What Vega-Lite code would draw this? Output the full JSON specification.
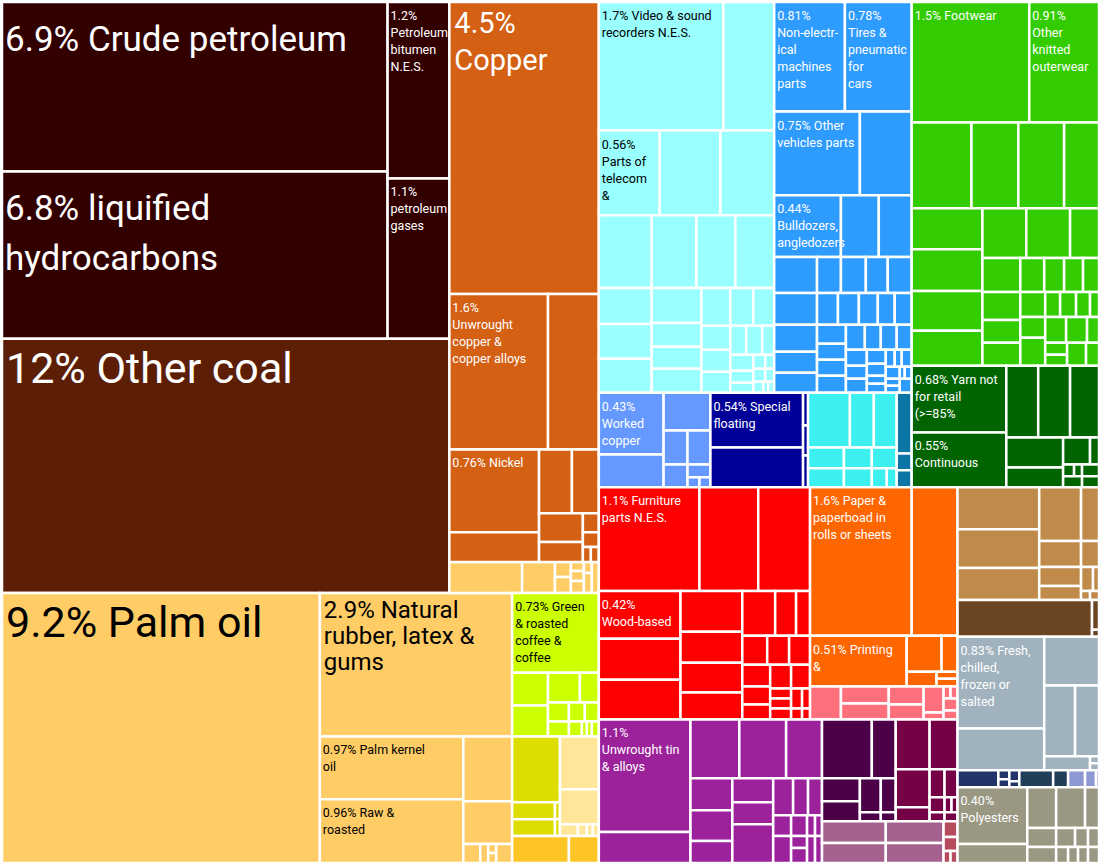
{
"$schema":"https://vega.github.io/schema/vega-lite/v6.json",
"width":1101,"height":865,"padding":0,
"autosize":{"type":"fit","contains":"padding"},
"background":"white",
"config":{"view":{"stroke":null},"font":"Roboto"},
"data":{"values":[
{"g":"P","x0":0,"x1":387,"y0":1,"y1":171,"v":6.9,"label":["6.9% Crude petroleum"]},
{"g":"P","x0":0,"x1":387,"y0":171,"y1":339,"v":6.8,"label":["6.8% liquified","hydrocarbons"]},
{"g":"P","x0":387,"x1":449,"y0":1,"y1":178,"v":1.2,"label":["1.2%","Petroleum","bitumen","N.E.S."]},
{"g":"P","x0":387,"x1":449,"y0":178,"y1":339,"v":1.1,"label":["1.1%","petroleum","gases"]},
{"g":"C","x0":0,"x1":449,"y0":339,"y1":594,"v":12,"label":["12% Other coal"]},
{"g":"O","x0":0,"x1":319,"y0":594,"y1":865,"v":9.2,"label":["9.2% Palm oil"]},
{"g":"O","x0":319,"x1":512,"y0":594,"y1":738,"v":2.9,"label":["2.9% Natural","rubber, latex &","gums"]},
{"g":"O","x0":319,"x1":463,"y0":738,"y1":801,"v":0.97,"label":["0.97% Palm kernel","oil"]},
{"g":"O","x0":319,"x1":463,"y0":801,"y1":865,"v":0.96,"label":["0.96% Raw &","roasted"]},
{"g":"O","x0":463,"x1":512,"y0":738,"y1":803},
{"g":"O","x0":463,"x1":512,"y0":803,"y1":846},
{"g":"O","x0":463,"x1":480,"y0":846,"y1":865},
{"g":"O","x0":480,"x1":488,"y0":846,"y1":865},
{"g":"O","x0":488,"x1":496,"y0":846,"y1":855},
{"g":"O","x0":488,"x1":496,"y0":855,"y1":865},
{"g":"O","x0":496,"x1":512,"y0":846,"y1":865},
{"g":"O","x0":449,"x1":522,"y0":563,"y1":594},
{"g":"O","x0":522,"x1":555,"y0":563,"y1":594},
{"g":"O","x0":555,"x1":571,"y0":563,"y1":578},
{"g":"O","x0":555,"x1":571,"y0":578,"y1":594},
{"g":"O","x0":571,"x1":584,"y0":563,"y1":572},
{"g":"O","x0":571,"x1":584,"y0":572,"y1":582},
{"g":"O","x0":571,"x1":584,"y0":582,"y1":594},
{"g":"O","x0":584,"x1":592,"y0":563,"y1":574},
{"g":"O","x0":584,"x1":592,"y0":574,"y1":594},
{"g":"O","x0":592,"x1":599,"y0":563,"y1":594},
{"g":"Cu","x0":449,"x1":599,"y0":1,"y1":294,"v":4.5,"label":["4.5%","Copper"]},
{"g":"Cu","x0":449,"x1":548,"y0":294,"y1":450,"v":1.6,"label":["1.6%","Unwrought","copper &","copper alloys"]},
{"g":"Cu","x0":548,"x1":599,"y0":294,"y1":450},
{"g":"Cu","x0":449,"x1":539,"y0":450,"y1":533,"v":0.76,"label":["0.76% Nickel"]},
{"g":"Cu","x0":449,"x1":539,"y0":533,"y1":563},
{"g":"Cu","x0":539,"x1":572,"y0":450,"y1":514},
{"g":"Cu","x0":572,"x1":599,"y0":450,"y1":514},
{"g":"Cu","x0":539,"x1":583,"y0":514,"y1":543},
{"g":"Cu","x0":583,"x1":599,"y0":514,"y1":533},
{"g":"Cu","x0":539,"x1":583,"y0":543,"y1":563},
{"g":"Cu","x0":583,"x1":599,"y0":533,"y1":548},
{"g":"Cu","x0":583,"x1":591,"y0":548,"y1":563},
{"g":"Cu","x0":591,"x1":599,"y0":548,"y1":563},
{"g":"Lime","x0":512,"x1":599,"y0":594,"y1":674,"v":0.73,"label":["0.73% Green","& roasted","coffee &","coffee"]},
{"g":"Lime","x0":512,"x1":548,"y0":674,"y1":707},
{"g":"Lime","x0":512,"x1":548,"y0":707,"y1":738},
{"g":"Lime","x0":548,"x1":580,"y0":674,"y1":704},
{"g":"Lime","x0":580,"x1":599,"y0":674,"y1":704},
{"g":"Lime","x0":548,"x1":569,"y0":704,"y1":723},
{"g":"Lime","x0":569,"x1":585,"y0":704,"y1":723},
{"g":"Lime","x0":585,"x1":599,"y0":704,"y1":723},
{"g":"Lime","x0":548,"x1":569,"y0":723,"y1":738},
{"g":"Lime","x0":569,"x1":582,"y0":723,"y1":738},
{"g":"Lime","x0":582,"x1":587,"y0":723,"y1":738},
{"g":"Lime","x0":587,"x1":592,"y0":723,"y1":738},
{"g":"Lime","x0":592,"x1":599,"y0":723,"y1":738},
{"g":"DY","x0":512,"x1":560,"y0":738,"y1":804},
{"g":"DY","x0":512,"x1":555,"y0":804,"y1":821},
{"g":"DY","x0":512,"x1":555,"y0":821,"y1":838},
{"g":"DY","x0":555,"x1":560,"y0":804,"y1":821},
{"g":"DY","x0":555,"x1":560,"y0":821,"y1":838},
{"g":"LY","x0":560,"x1":599,"y0":738,"y1":791},
{"g":"LY","x0":560,"x1":599,"y0":791,"y1":826},
{"g":"LY","x0":560,"x1":578,"y0":826,"y1":838},
{"g":"LY","x0":578,"x1":587,"y0":826,"y1":838},
{"g":"LY","x0":587,"x1":593,"y0":826,"y1":838},
{"g":"LY","x0":593,"x1":599,"y0":826,"y1":838},
{"g":"Gold","x0":512,"x1":569,"y0":838,"y1":865},
{"g":"Gold","x0":569,"x1":599,"y0":838,"y1":865},
{"g":"Cyan","x0":599,"x1":724,"y0":1,"y1":130,"v":1.7,"label":["1.7% Video & sound","recorders N.E.S."]},
{"g":"Cyan","x0":724,"x1":775,"y0":1,"y1":130},
{"g":"Cyan","x0":599,"x1":660,"y0":130,"y1":215,"v":0.56,"label":["0.56%","Parts of","telecom","&"]},
{"g":"Cyan","x0":660,"x1":721,"y0":130,"y1":215},
{"g":"Cyan","x0":721,"x1":775,"y0":130,"y1":215},
{"g":"Cyan","x0":599,"x1":652,"y0":215,"y1":288},
{"g":"Cyan","x0":652,"x1":697,"y0":215,"y1":288},
{"g":"Cyan","x0":697,"x1":736,"y0":215,"y1":288},
{"g":"Cyan","x0":736,"x1":775,"y0":215,"y1":288},
{"g":"Cyan","x0":599,"x1":652,"y0":288,"y1":324},
{"g":"Cyan","x0":599,"x1":652,"y0":324,"y1":359},
{"g":"Cyan","x0":599,"x1":652,"y0":359,"y1":393},
{"g":"Cyan","x0":652,"x1":702,"y0":288,"y1":323},
{"g":"Cyan","x0":652,"x1":702,"y0":323,"y1":347},
{"g":"Cyan","x0":652,"x1":702,"y0":347,"y1":369},
{"g":"Cyan","x0":652,"x1":702,"y0":369,"y1":393},
{"g":"Cyan","x0":702,"x1":731,"y0":288,"y1":326},
{"g":"Cyan","x0":731,"x1":754,"y0":288,"y1":326},
{"g":"Cyan","x0":754,"x1":775,"y0":288,"y1":326},
{"g":"Cyan","x0":702,"x1":731,"y0":326,"y1":350},
{"g":"Cyan","x0":702,"x1":731,"y0":350,"y1":372},
{"g":"Cyan","x0":702,"x1":731,"y0":372,"y1":393},
{"g":"Cyan","x0":731,"x1":747,"y0":326,"y1":355},
{"g":"Cyan","x0":747,"x1":763,"y0":326,"y1":355},
{"g":"Cyan","x0":763,"x1":775,"y0":326,"y1":355},
{"g":"Cyan","x0":731,"x1":754,"y0":355,"y1":371},
{"g":"Cyan","x0":731,"x1":754,"y0":371,"y1":383},
{"g":"Cyan","x0":731,"x1":754,"y0":383,"y1":393},
{"g":"Cyan","x0":754,"x1":766,"y0":355,"y1":369},
{"g":"Cyan","x0":766,"x1":775,"y0":355,"y1":369},
{"g":"Cyan","x0":754,"x1":766,"y0":369,"y1":382},
{"g":"Cyan","x0":766,"x1":775,"y0":369,"y1":382},
{"g":"Cyan","x0":754,"x1":764,"y0":382,"y1":393},
{"g":"Cyan","x0":764,"x1":769,"y0":382,"y1":393},
{"g":"Cyan","x0":769,"x1":775,"y0":382,"y1":393},
{"g":"Blue","x0":775,"x1":846,"y0":1,"y1":111,"v":0.81,"label":["0.81%","Non-electr-","ical","machines","parts"]},
{"g":"Blue","x0":846,"x1":913,"y0":1,"y1":111,"v":0.78,"label":["0.78%","Tires &","pneumatic","for","cars"]},
{"g":"Blue","x0":775,"x1":861,"y0":111,"y1":195,"v":0.75,"label":["0.75% Other","vehicles parts"]},
{"g":"Blue","x0":861,"x1":913,"y0":111,"y1":195},
{"g":"Blue","x0":775,"x1":842,"y0":195,"y1":257,"v":0.44,"label":["0.44%","Bulldozers,","angledozers"]},
{"g":"Blue","x0":842,"x1":880,"y0":195,"y1":257},
{"g":"Blue","x0":880,"x1":913,"y0":195,"y1":257},
{"g":"Blue","x0":775,"x1":818,"y0":257,"y1":293},
{"g":"Blue","x0":818,"x1":842,"y0":257,"y1":293},
{"g":"Blue","x0":842,"x1":867,"y0":257,"y1":293},
{"g":"Blue","x0":867,"x1":889,"y0":257,"y1":293},
{"g":"Blue","x0":889,"x1":913,"y0":257,"y1":293},
{"g":"Blue","x0":775,"x1":818,"y0":293,"y1":325},
{"g":"Blue","x0":818,"x1":839,"y0":293,"y1":325},
{"g":"Blue","x0":839,"x1":860,"y0":293,"y1":325},
{"g":"Blue","x0":860,"x1":879,"y0":293,"y1":325},
{"g":"Blue","x0":879,"x1":896,"y0":293,"y1":325},
{"g":"Blue","x0":896,"x1":913,"y0":293,"y1":325},
{"g":"Blue","x0":775,"x1":818,"y0":325,"y1":352},
{"g":"Blue","x0":775,"x1":818,"y0":352,"y1":373},
{"g":"Blue","x0":775,"x1":818,"y0":373,"y1":393},
{"g":"Blue","x0":818,"x1":847,"y0":325,"y1":344},
{"g":"Blue","x0":818,"x1":847,"y0":344,"y1":360},
{"g":"Blue","x0":818,"x1":847,"y0":360,"y1":376},
{"g":"Blue","x0":818,"x1":847,"y0":376,"y1":393},
{"g":"Blue","x0":847,"x1":866,"y0":325,"y1":350},
{"g":"Blue","x0":866,"x1":882,"y0":325,"y1":350},
{"g":"Blue","x0":882,"x1":898,"y0":325,"y1":350},
{"g":"Blue","x0":898,"x1":913,"y0":325,"y1":350},
{"g":"Blue","x0":847,"x1":868,"y0":350,"y1":366},
{"g":"Blue","x0":847,"x1":868,"y0":366,"y1":379},
{"g":"Blue","x0":847,"x1":868,"y0":379,"y1":393},
{"g":"Blue","x0":868,"x1":887,"y0":350,"y1":364},
{"g":"Blue","x0":868,"x1":887,"y0":364,"y1":376},
{"g":"Blue","x0":868,"x1":887,"y0":376,"y1":384},
{"g":"Blue","x0":868,"x1":887,"y0":384,"y1":393},
{"g":"Blue","x0":887,"x1":896,"y0":350,"y1":367},
{"g":"Blue","x0":896,"x1":903,"y0":350,"y1":367},
{"g":"Blue","x0":903,"x1":913,"y0":350,"y1":367},
{"g":"Blue","x0":887,"x1":901,"y0":367,"y1":379},
{"g":"Blue","x0":901,"x1":906,"y0":367,"y1":379},
{"g":"Blue","x0":906,"x1":913,"y0":367,"y1":379},
{"g":"Blue","x0":887,"x1":901,"y0":379,"y1":386},
{"g":"Blue","x0":887,"x1":901,"y0":386,"y1":393},
{"g":"Blue","x0":901,"x1":913,"y0":379,"y1":393},
{"g":"Peri","x0":599,"x1":664,"y0":393,"y1":455,"v":0.43,"label":["0.43%","Worked","copper"]},
{"g":"Peri","x0":599,"x1":664,"y0":455,"y1":488},
{"g":"Peri","x0":664,"x1":711,"y0":393,"y1":431},
{"g":"Peri","x0":664,"x1":688,"y0":431,"y1":465},
{"g":"Peri","x0":688,"x1":711,"y0":431,"y1":465},
{"g":"Peri","x0":664,"x1":688,"y0":465,"y1":488},
{"g":"Peri","x0":688,"x1":711,"y0":465,"y1":478},
{"g":"Peri","x0":688,"x1":700,"y0":478,"y1":488},
{"g":"Peri","x0":700,"x1":711,"y0":478,"y1":488},
{"g":"Navy","x0":711,"x1":804,"y0":393,"y1":448,"v":0.54,"label":["0.54% Special","floating"]},
{"g":"Navy","x0":711,"x1":804,"y0":448,"y1":488},
{"g":"Navy","x0":804,"x1":809,"y0":393,"y1":426},
{"g":"Navy","x0":804,"x1":809,"y0":426,"y1":456},
{"g":"Navy","x0":804,"x1":809,"y0":456,"y1":488},
{"g":"Aqua","x0":809,"x1":851,"y0":393,"y1":448},
{"g":"Aqua","x0":851,"x1":875,"y0":393,"y1":448},
{"g":"Aqua","x0":875,"x1":898,"y0":393,"y1":448},
{"g":"Aqua","x0":809,"x1":845,"y0":448,"y1":469},
{"g":"Aqua","x0":845,"x1":873,"y0":448,"y1":469},
{"g":"Aqua","x0":873,"x1":898,"y0":448,"y1":469},
{"g":"Aqua","x0":809,"x1":845,"y0":469,"y1":488},
{"g":"Aqua","x0":845,"x1":873,"y0":469,"y1":488},
{"g":"Aqua","x0":873,"x1":888,"y0":469,"y1":488},
{"g":"Aqua","x0":888,"x1":898,"y0":469,"y1":488},
{"g":"Teal","x0":898,"x1":913,"y0":393,"y1":454},
{"g":"Teal","x0":898,"x1":913,"y0":454,"y1":471},
{"g":"Teal","x0":898,"x1":913,"y0":471,"y1":488},
{"g":"Green","x0":913,"x1":1031,"y0":1,"y1":122,"v":1.5,"label":["1.5% Footwear"]},
{"g":"Green","x0":1031,"x1":1101,"y0":1,"y1":122,"v":0.91,"label":["0.91%","Other","knitted","outerwear"]},
{"g":"Green","x0":913,"x1":973,"y0":122,"y1":208},
{"g":"Green","x0":973,"x1":1020,"y0":122,"y1":208},
{"g":"Green","x0":1020,"x1":1066,"y0":122,"y1":208},
{"g":"Green","x0":1066,"x1":1101,"y0":122,"y1":208},
{"g":"Green","x0":913,"x1":984,"y0":208,"y1":249},
{"g":"Green","x0":913,"x1":984,"y0":249,"y1":291},
{"g":"Green","x0":913,"x1":984,"y0":291,"y1":331},
{"g":"Green","x0":913,"x1":984,"y0":331,"y1":366},
{"g":"Green","x0":984,"x1":1028,"y0":208,"y1":258},
{"g":"Green","x0":1028,"x1":1072,"y0":208,"y1":258},
{"g":"Green","x0":1072,"x1":1101,"y0":208,"y1":258},
{"g":"Green","x0":984,"x1":1022,"y0":258,"y1":292},
{"g":"Green","x0":1022,"x1":1046,"y0":258,"y1":292},
{"g":"Green","x0":1046,"x1":1066,"y0":258,"y1":292},
{"g":"Green","x0":1066,"x1":1085,"y0":258,"y1":292},
{"g":"Green","x0":1085,"x1":1101,"y0":258,"y1":292},
{"g":"Green","x0":984,"x1":1022,"y0":292,"y1":320},
{"g":"Green","x0":984,"x1":1022,"y0":320,"y1":343},
{"g":"Green","x0":984,"x1":1022,"y0":343,"y1":366},
{"g":"Green","x0":1022,"x1":1047,"y0":292,"y1":317},
{"g":"Green","x0":1047,"x1":1062,"y0":292,"y1":317},
{"g":"Green","x0":1062,"x1":1078,"y0":292,"y1":317},
{"g":"Green","x0":1078,"x1":1092,"y0":292,"y1":317},
{"g":"Green","x0":1092,"x1":1101,"y0":292,"y1":317},
{"g":"Green","x0":1022,"x1":1047,"y0":317,"y1":338},
{"g":"Green","x0":1022,"x1":1047,"y0":338,"y1":366},
{"g":"Green","x0":1047,"x1":1068,"y0":317,"y1":343},
{"g":"Green","x0":1068,"x1":1089,"y0":317,"y1":343},
{"g":"Green","x0":1089,"x1":1101,"y0":317,"y1":343},
{"g":"Green","x0":1047,"x1":1069,"y0":343,"y1":355},
{"g":"Green","x0":1047,"x1":1069,"y0":355,"y1":366},
{"g":"Green","x0":1069,"x1":1088,"y0":343,"y1":366},
{"g":"Green","x0":1088,"x1":1101,"y0":343,"y1":366},
{"g":"DG","x0":913,"x1":1008,"y0":366,"y1":433,"v":0.68,"label":["0.68% Yarn not","for retail","(>=85%"]},
{"g":"DG","x0":913,"x1":1008,"y0":433,"y1":488,"v":0.55,"label":["0.55%","Continuous"]},
{"g":"DG","x0":1008,"x1":1040,"y0":366,"y1":438},
{"g":"DG","x0":1040,"x1":1072,"y0":366,"y1":438},
{"g":"DG","x0":1072,"x1":1101,"y0":366,"y1":438},
{"g":"DG","x0":1008,"x1":1065,"y0":438,"y1":468},
{"g":"DG","x0":1008,"x1":1065,"y0":468,"y1":488},
{"g":"DG","x0":1065,"x1":1092,"y0":438,"y1":465},
{"g":"DG","x0":1092,"x1":1101,"y0":438,"y1":465},
{"g":"DG","x0":1065,"x1":1076,"y0":465,"y1":477},
{"g":"DG","x0":1076,"x1":1084,"y0":465,"y1":477},
{"g":"DG","x0":1084,"x1":1101,"y0":465,"y1":477},
{"g":"DG","x0":1065,"x1":1084,"y0":477,"y1":488},
{"g":"DG","x0":1084,"x1":1101,"y0":477,"y1":488},
{"g":"Red","x0":599,"x1":700,"y0":488,"y1":592,"v":1.1,"label":["1.1% Furniture","parts N.E.S."]},
{"g":"Red","x0":700,"x1":759,"y0":488,"y1":592},
{"g":"Red","x0":759,"x1":811,"y0":488,"y1":592},
{"g":"Red","x0":599,"x1":681,"y0":592,"y1":640,"v":0.42,"label":["0.42%","Wood-based"]},
{"g":"Red","x0":599,"x1":681,"y0":640,"y1":681},
{"g":"Red","x0":599,"x1":681,"y0":681,"y1":721},
{"g":"Red","x0":681,"x1":743,"y0":592,"y1":633},
{"g":"Red","x0":681,"x1":743,"y0":633,"y1":664},
{"g":"Red","x0":681,"x1":743,"y0":664,"y1":694},
{"g":"Red","x0":681,"x1":743,"y0":694,"y1":721},
{"g":"Red","x0":743,"x1":776,"y0":592,"y1":637},
{"g":"Red","x0":776,"x1":797,"y0":592,"y1":637},
{"g":"Red","x0":797,"x1":811,"y0":592,"y1":637},
{"g":"Red","x0":743,"x1":768,"y0":637,"y1":666},
{"g":"Red","x0":768,"x1":790,"y0":637,"y1":666},
{"g":"Red","x0":790,"x1":811,"y0":637,"y1":666},
{"g":"Red","x0":743,"x1":771,"y0":666,"y1":688},
{"g":"Red","x0":743,"x1":771,"y0":688,"y1":706},
{"g":"Red","x0":743,"x1":771,"y0":706,"y1":721},
{"g":"Red","x0":771,"x1":792,"y0":666,"y1":690},
{"g":"Red","x0":792,"x1":811,"y0":666,"y1":690},
{"g":"Red","x0":771,"x1":792,"y0":690,"y1":700},
{"g":"Red","x0":771,"x1":792,"y0":700,"y1":710},
{"g":"Red","x0":771,"x1":792,"y0":710,"y1":721},
{"g":"Red","x0":792,"x1":803,"y0":690,"y1":710},
{"g":"Red","x0":803,"x1":811,"y0":690,"y1":710},
{"g":"Red","x0":792,"x1":803,"y0":710,"y1":721},
{"g":"Red","x0":803,"x1":811,"y0":710,"y1":721},
{"g":"Orange","x0":811,"x1":913,"y0":488,"y1":637,"v":1.6,"label":["1.6% Paper &","paperboad in","rolls or sheets"]},
{"g":"Orange","x0":913,"x1":959,"y0":488,"y1":637},
{"g":"Orange","x0":811,"x1":908,"y0":637,"y1":688,"v":0.51,"label":["0.51% Printing","&"]},
{"g":"Orange","x0":908,"x1":943,"y0":637,"y1":673},
{"g":"Orange","x0":943,"x1":959,"y0":637,"y1":673},
{"g":"Orange","x0":908,"x1":938,"y0":673,"y1":688},
{"g":"Orange","x0":938,"x1":959,"y0":673,"y1":680},
{"g":"Orange","x0":938,"x1":959,"y0":680,"y1":688},
{"g":"Pink","x0":811,"x1":842,"y0":688,"y1":721},
{"g":"Pink","x0":842,"x1":890,"y0":688,"y1":705},
{"g":"Pink","x0":842,"x1":890,"y0":705,"y1":721},
{"g":"Pink","x0":890,"x1":925,"y0":688,"y1":706},
{"g":"Pink","x0":890,"x1":925,"y0":706,"y1":721},
{"g":"Pink","x0":925,"x1":945,"y0":688,"y1":714},
{"g":"Pink","x0":925,"x1":945,"y0":714,"y1":721},
{"g":"Pink","x0":945,"x1":952,"y0":688,"y1":700},
{"g":"Pink","x0":952,"x1":959,"y0":688,"y1":700},
{"g":"Pink","x0":945,"x1":959,"y0":700,"y1":712},
{"g":"Pink","x0":945,"x1":959,"y0":712,"y1":721},
{"g":"Purple","x0":599,"x1":691,"y0":721,"y1":834,"v":1.1,"label":["1.1%","Unwrought tin","& alloys"]},
{"g":"Purple","x0":599,"x1":691,"y0":834,"y1":865},
{"g":"Purple","x0":691,"x1":740,"y0":721,"y1":780},
{"g":"Purple","x0":740,"x1":787,"y0":721,"y1":780},
{"g":"Purple","x0":787,"x1":823,"y0":721,"y1":780},
{"g":"Purple","x0":691,"x1":733,"y0":780,"y1":812},
{"g":"Purple","x0":691,"x1":733,"y0":812,"y1":843},
{"g":"Purple","x0":691,"x1":733,"y0":843,"y1":865},
{"g":"Purple","x0":733,"x1":774,"y0":780,"y1":804},
{"g":"Purple","x0":733,"x1":774,"y0":804,"y1":826},
{"g":"Purple","x0":733,"x1":774,"y0":826,"y1":865},
{"g":"Purple","x0":774,"x1":794,"y0":780,"y1":817},
{"g":"Purple","x0":794,"x1":809,"y0":780,"y1":817},
{"g":"Purple","x0":809,"x1":823,"y0":780,"y1":817},
{"g":"Purple","x0":774,"x1":792,"y0":817,"y1":838},
{"g":"Purple","x0":792,"x1":808,"y0":817,"y1":838},
{"g":"Purple","x0":808,"x1":816,"y0":817,"y1":838},
{"g":"Purple","x0":816,"x1":823,"y0":817,"y1":838},
{"g":"Purple","x0":774,"x1":792,"y0":838,"y1":865},
{"g":"Purple","x0":792,"x1":808,"y0":838,"y1":850},
{"g":"Purple","x0":792,"x1":808,"y0":850,"y1":865},
{"g":"Purple","x0":808,"x1":816,"y0":838,"y1":865},
{"g":"Purple","x0":816,"x1":823,"y0":838,"y1":865},
{"g":"DP","x0":823,"x1":873,"y0":721,"y1":780},
{"g":"DP","x0":873,"x1":897,"y0":721,"y1":780},
{"g":"DP","x0":823,"x1":861,"y0":780,"y1":803},
{"g":"DP","x0":823,"x1":861,"y0":803,"y1":823},
{"g":"DP","x0":861,"x1":882,"y0":780,"y1":814},
{"g":"DP","x0":882,"x1":897,"y0":780,"y1":814},
{"g":"DP","x0":861,"x1":882,"y0":814,"y1":823},
{"g":"DP","x0":882,"x1":897,"y0":814,"y1":823},
{"g":"Maroon","x0":897,"x1":931,"y0":721,"y1":771},
{"g":"Maroon","x0":931,"x1":959,"y0":721,"y1":771},
{"g":"Maroon","x0":897,"x1":931,"y0":771,"y1":809},
{"g":"Maroon","x0":897,"x1":931,"y0":809,"y1":823},
{"g":"Maroon","x0":931,"x1":946,"y0":771,"y1":799},
{"g":"Maroon","x0":946,"x1":959,"y0":771,"y1":799},
{"g":"Maroon","x0":931,"x1":946,"y0":799,"y1":814},
{"g":"Maroon","x0":946,"x1":953,"y0":799,"y1":814},
{"g":"Maroon","x0":953,"x1":959,"y0":799,"y1":814},
{"g":"Maroon","x0":931,"x1":946,"y0":814,"y1":823},
{"g":"Maroon","x0":946,"x1":959,"y0":814,"y1":823},
{"g":"Mauve","x0":823,"x1":887,"y0":823,"y1":845},
{"g":"Mauve","x0":823,"x1":887,"y0":845,"y1":865},
{"g":"Mauve","x0":887,"x1":945,"y0":823,"y1":845},
{"g":"Mauve","x0":887,"x1":945,"y0":845,"y1":865},
{"g":"Rose","x0":945,"x1":959,"y0":823,"y1":839},
{"g":"Rose","x0":945,"x1":959,"y0":839,"y1":853},
{"g":"Rose","x0":945,"x1":952,"y0":853,"y1":865},
{"g":"Rose","x0":952,"x1":959,"y0":853,"y1":865},
{"g":"Tan","x0":959,"x1":1041,"y0":488,"y1":530},
{"g":"Tan","x0":959,"x1":1041,"y0":530,"y1":569},
{"g":"Tan","x0":959,"x1":1041,"y0":569,"y1":601},
{"g":"Tan","x0":1041,"x1":1083,"y0":488,"y1":542},
{"g":"Tan","x0":1041,"x1":1083,"y0":542,"y1":568},
{"g":"Tan","x0":1041,"x1":1083,"y0":568,"y1":587},
{"g":"Tan","x0":1041,"x1":1083,"y0":587,"y1":601},
{"g":"Tan","x0":1083,"x1":1101,"y0":488,"y1":542},
{"g":"Tan","x0":1083,"x1":1101,"y0":542,"y1":568},
{"g":"Tan","x0":1083,"x1":1095,"y0":568,"y1":592},
{"g":"Tan","x0":1095,"x1":1101,"y0":568,"y1":592},
{"g":"Tan","x0":1083,"x1":1092,"y0":592,"y1":601},
{"g":"Tan","x0":1092,"x1":1101,"y0":592,"y1":601},
{"g":"DB","x0":959,"x1":1094,"y0":601,"y1":638},
{"g":"DB","x0":1094,"x1":1101,"y0":601,"y1":631},
{"g":"DB","x0":1094,"x1":1101,"y0":631,"y1":638},
{"g":"GB","x0":959,"x1":1046,"y0":638,"y1":730,"v":0.83,"label":["0.83% Fresh,","chilled,","frozen or","salted"]},
{"g":"GB","x0":959,"x1":1046,"y0":730,"y1":772},
{"g":"GB","x0":1046,"x1":1101,"y0":638,"y1":687},
{"g":"GB","x0":1046,"x1":1077,"y0":687,"y1":758},
{"g":"GB","x0":1077,"x1":1101,"y0":687,"y1":758},
{"g":"GB","x0":1046,"x1":1092,"y0":758,"y1":772},
{"g":"GB","x0":1092,"x1":1101,"y0":758,"y1":765},
{"g":"GB","x0":1092,"x1":1101,"y0":765,"y1":772},
{"g":"Navy2","x0":959,"x1":1000,"y0":772,"y1":789},
{"g":"Navy2","x0":1000,"x1":1011,"y0":772,"y1":781},
{"g":"Navy2","x0":1000,"x1":1011,"y0":781,"y1":789},
{"g":"Navy2","x0":1011,"x1":1021,"y0":772,"y1":783},
{"g":"Navy2","x0":1011,"x1":1021,"y0":783,"y1":789},
{"g":"Slate","x0":1021,"x1":1055,"y0":772,"y1":789},
{"g":"Slate","x0":1055,"x1":1070,"y0":772,"y1":789},
{"g":"Lav","x0":1070,"x1":1087,"y0":772,"y1":789},
{"g":"Lav","x0":1087,"x1":1098,"y0":772,"y1":789},
{"g":"Lav","x0":1098,"x1":1101,"y0":772,"y1":789},
{"g":"Khaki","x0":959,"x1":1029,"y0":789,"y1":846,"v":0.4,"label":["0.40%","Polyesters"]},
{"g":"Khaki","x0":959,"x1":1029,"y0":846,"y1":865},
{"g":"Khaki","x0":1029,"x1":1058,"y0":789,"y1":830},
{"g":"Khaki","x0":1058,"x1":1087,"y0":789,"y1":830},
{"g":"Khaki","x0":1087,"x1":1101,"y0":789,"y1":830},
{"g":"Khaki","x0":1029,"x1":1058,"y0":830,"y1":849},
{"g":"Khaki","x0":1029,"x1":1058,"y0":849,"y1":865},
{"g":"Khaki","x0":1058,"x1":1077,"y0":830,"y1":849},
{"g":"Khaki","x0":1077,"x1":1090,"y0":830,"y1":849},
{"g":"Khaki","x0":1090,"x1":1101,"y0":830,"y1":849},
{"g":"Khaki","x0":1058,"x1":1070,"y0":849,"y1":865},
{"g":"Khaki","x0":1070,"x1":1080,"y0":849,"y1":865},
{"g":"Khaki","x0":1080,"x1":1090,"y0":849,"y1":865},
{"g":"Khaki","x0":1090,"x1":1101,"y0":849,"y1":865}
]},
"encoding":{
"x":{"field":"x0","type":"quantitative","scale":{"domain":[0,1101],"nice":false,"zero":false},"axis":null},
"y":{"field":"y0","type":"quantitative","scale":{"domain":[0,865],"nice":false,"zero":false,"reverse":true},"axis":null}
},
"layer":[
{"mark":{"type":"rect","stroke":"white","strokeWidth":2.5},
 "encoding":{
 "x2":{"field":"x1"},"y2":{"field":"y1"},
 "color":{"field":"g","type":"nominal","legend":null,"scale":{
 "domain":["P","C","O","Cu","Lime","DY","LY","Gold","Cyan","Blue","Peri","Navy","Aqua","Teal","Green","DG","Red","Orange","Pink","Purple","DP","Maroon","Mauve","Rose","Tan","DB","GB","Navy2","Slate","Lav","Khaki"],
 "range":["#330000","#5C1F06","#FFCC66","#D46014","#CCFF00","#DDDD00","#FFE699","#FFC425","#99FFFF","#2E9BFF","#6699FF","#000099","#3CF0F0","#0B76A6","#33CC00","#006400","#FF0000","#FF6600","#FF6F7C","#9C229C","#4C0048","#760046","#A6628F","#B84A5E","#BF8A4A","#6B4522","#A0B2BD","#22346A","#223F5A","#8E98D2","#9A9882"]}}
 }},
{"transform":[{"filter":"isValid(datum.v) && datum.v < 2.5"}],
 "mark":{"type":"text","align":"left","baseline":"top","dx":3,"dy":8,"fontSize":12.5,"lineHeight":17},
 "encoding":{"text":{"field":"label"},
 "color":{"condition":{"test":"indexof(['O','Lime','Cyan','LY','DY','Gold'], datum.g) >= 0","value":"black"},"value":"white"}}},
{"transform":[{"filter":"isValid(datum.v) && datum.v >= 2.5 && datum.v < 4"}],
 "mark":{"type":"text","align":"left","baseline":"top","dx":4,"dy":6,"fontSize":24,"lineHeight":26,"color":"black"},
 "encoding":{"text":{"field":"label"}}},
{"transform":[{"filter":"isValid(datum.v) && datum.v >= 4 && datum.v < 6"}],
 "mark":{"type":"text","align":"left","baseline":"top","dx":5,"dy":8,"fontSize":29,"lineHeight":37,"color":"white"},
 "encoding":{"text":{"field":"label"}}},
{"transform":[{"filter":"isValid(datum.v) && datum.v >= 6 && datum.g == 'P'"}],
 "mark":{"type":"text","align":"left","baseline":"top","dx":3,"dy":21,"fontSize":35,"lineHeight":50,"color":"white"},
 "encoding":{"text":{"field":"label"}}},
{"transform":[{"filter":"isValid(datum.v) && datum.v >= 6 && datum.g != 'P'"}],
 "mark":{"type":"text","align":"left","baseline":"top","dx":4,"dy":10,"fontSize":43},
 "encoding":{"text":{"field":"label"},
 "color":{"condition":{"test":"datum.g == 'O'","value":"black"},"value":"white"}}}
]
}
